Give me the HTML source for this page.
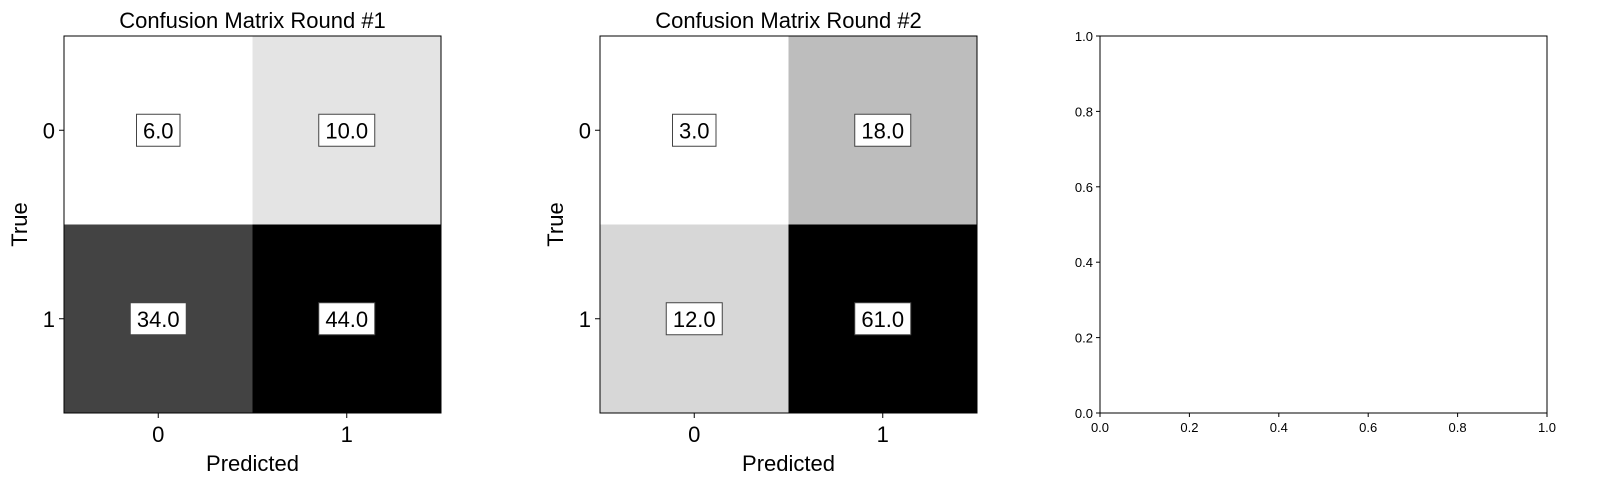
<!DOCTYPE html>
<html><head><meta charset="utf-8"><style>
body{margin:0;background:#fff;}
svg{display:block;font-family:"Liberation Sans","DejaVu Sans",sans-serif;}
</style></head><body>
<svg id="chart" width="1600" height="495" xmlns="http://www.w3.org/2000/svg"></svg>
<script>
const classLabels = ["0","1"];
const matrix1 = [[6,10],[34,44]];
const matrix2 = [[3,18],[12,61]];
const titles = ["Confusion Matrix Round #1","Confusion Matrix Round #2"];
const emptyTicks = ["0.0","0.2","0.4","0.6","0.8","1.0"];
const emptyTickValues = [0,0.2,0.4,0.6,0.8,1.0];

const NS="http://www.w3.org/2000/svg";
const svg=document.getElementById('chart');
function mk(tag,attrs,parent){const e=document.createElementNS(NS,tag);for(const k in attrs)e.setAttribute(k,attrs[k]);(parent||svg).appendChild(e);return e;}

function drawCM(mat,x0,title,idx){
  const y0=36,size=377,n=mat.length,cell=size/n;
  const g=mk('g',{});
  
  
  const flat=mat.flat(),mn=Math.min(...flat),mx=Math.max(...flat);
  const xs=c=>x0+c*cell, ys=r=>y0+r*cell;
  for(let r=0;r<n;r++)for(let c=0;c<n;c++){
    const v=mat[r][c];const t=(v-mn)/(mx-mn);const gv=Math.round((1-t)*255);
    const rect=mk('rect',{x:xs(c),y:ys(r),width:cell,height:cell,fill:`rgb(${gv},${gv},${gv})`},g);
    
    
    const cx=xs(c)+cell/2,cy=ys(r)+cell/2;
    const txt=v.toFixed(1);const w=txt.length*12.5+6;
    const box=mk('rect',{x:cx-w/2,y:cy-16,width:w,height:32,fill:'#fff',stroke:'#444','stroke-width':1},g);
    
    
    const tx=mk('text',{x:cx,y:cy+8,'text-anchor':'middle','font-size':22,fill:'#000'},g);
    tx.textContent=txt;
    
    
  }
  mk('rect',{x:x0,y:y0,width:size,height:size,fill:'none',stroke:'#000','stroke-width':1},g);
  classLabels.forEach((l,i)=>{
    const cx=xs(i)+cell/2, cy=ys(i)+cell/2;
    mk('line',{x1:cx,x2:cx,y1:y0+size,y2:y0+size+5,stroke:'#000'},g);
    const a=mk('text',{x:cx,y:y0+size+29,'text-anchor':'middle','font-size':22},g);a.textContent=l;
    
    mk('line',{x1:x0-5,x2:x0,y1:cy,y2:cy,stroke:'#000'},g);
    const b=mk('text',{x:x0-9,y:cy+8,'text-anchor':'end','font-size':22},g);b.textContent=l;
    
  });
  const tt=mk('text',{x:x0+size/2,y:28,'text-anchor':'middle','font-size':22},g);tt.textContent=title;
  
  const xl=mk('text',{x:x0+size/2,y:471,'text-anchor':'middle','font-size':22},g);xl.textContent='Predicted';
  
  const yl=mk('text',{x:0,y:0,'text-anchor':'middle','font-size':22,transform:`translate(${x0-37},${y0+size/2}) rotate(-90)`},g);yl.textContent='True';
  
}
drawCM(matrix1,64,titles[0],1);
drawCM(matrix2,600,titles[1],2);

const ex0=1100,ey0=36,ew=447,eh=377;
const g3=mk('g',{});


mk('rect',{x:ex0,y:ey0,width:ew,height:eh,fill:'none',stroke:'#000','stroke-width':1},g3);
emptyTickValues.forEach((v,i)=>{
  const x=ex0+v*ew, y=ey0+eh-v*eh;
  mk('line',{x1:x,x2:x,y1:ey0+eh,y2:ey0+eh+4,stroke:'#000'},g3);
  const a=mk('text',{x:x,y:ey0+eh+19,'text-anchor':'middle','font-size':13},g3);a.textContent=emptyTicks[i];
  
  mk('line',{x1:ex0-4,x2:ex0,y1:y,y2:y,stroke:'#000'},g3);
  const b=mk('text',{x:ex0-7,y:y+5,'text-anchor':'end','font-size':13},g3);b.textContent=emptyTicks[i];
  
});
</script>
</body></html>
